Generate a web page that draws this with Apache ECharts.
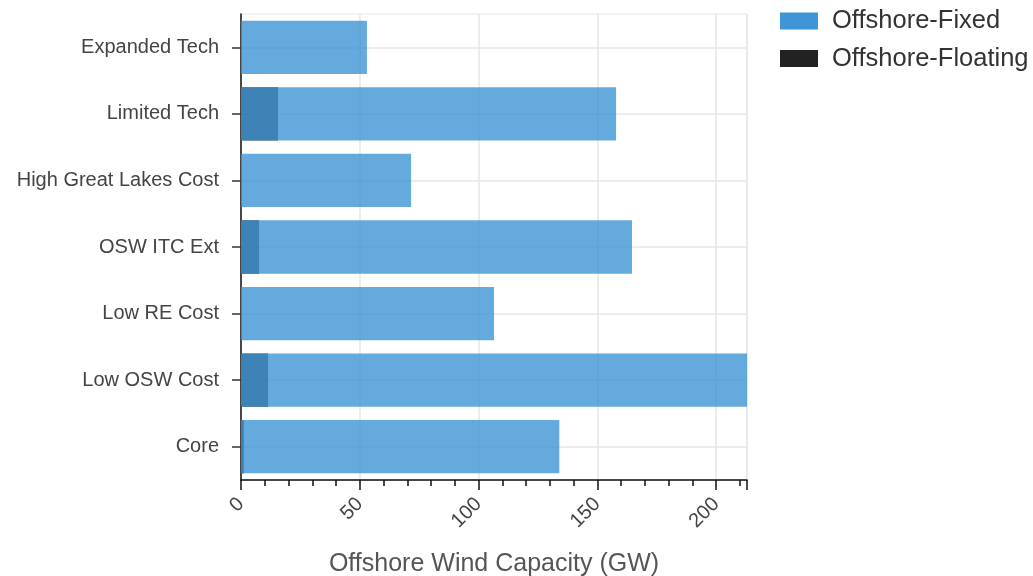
<!DOCTYPE html>
<html>
<head>
<meta charset="utf-8">
<script src="https://cdn.jsdelivr.net/npm/echarts@6/dist/echarts.min.js"></script>
<style>
html,body{margin:0;padding:0;background:#fff;}
#chart{width:1033px;height:576px;}
</style>
</head>
<body>
<div id="chart"></div>
<script>
const categories = ['Expanded Tech', 'Limited Tech', 'High Great Lakes Cost', 'OSW ITC Ext', 'Low RE Cost', 'Low OSW Cost', 'Core'];
const fixedValues = [53, 157.9, 71.6, 164.6, 106.5, 213, 134];
const floatingValues = [0, 15.6, 0, 7.6, 0, 11.4, 1.2];
const seriesNames = ['Offshore-Fixed', 'Offshore-Floating'];
const axisTitle = 'Offshore Wind Capacity (GW)';
const xMin = 0, xMax = 213;

const FONT = '"Liberation Sans", Arial, sans-serif';
const chart = echarts.init(document.getElementById('chart'));
chart.setOption({
  animation: false,
  textStyle: { fontFamily: FONT },
  grid: { left: 241, right: 286, top: 14, bottom: 96, show: true, borderColor: '#e6e6e6', borderWidth: 1,
    containLabel: false, outerBoundsMode: 'none' },
  legend: {
    orient: 'vertical', left: 775, top: 3, itemWidth: 38, itemHeight: 17, itemGap: 11.5,
    data: [seriesNames[0], seriesNames[1]],
    icon: 'rect',
    itemStyle: { opacity: 1 },
    textStyle: { fontSize: 25.5, color: '#333', fontFamily: FONT, padding: [0, 0, 0, 9] }
  },
  xAxis: [
    {
      type: 'value', min: xMin, max: xMax, interval: 50, position: 'bottom',
      name: axisTitle, nameLocation: 'middle', nameGap: 72,
      nameTextStyle: { fontSize: 25, color: '#555', fontFamily: FONT },
      axisLine: { show: true, lineStyle: { color: '#111', width: 1.5 } },
      axisTick: { show: true, length: 10, lineStyle: { color: '#111', width: 1.5 } },
      axisLabel: { rotate: 45, fontSize: 20, color: '#444', margin: 21, fontFamily: FONT,
        formatter: v => (v % 50 === 0 ? String(v) : '') },
      splitLine: { show: true, lineStyle: { color: '#e6e6e6', width: 1.5 } }
    },
    {
      type: 'value', min: xMin, max: xMax, interval: 10, position: 'bottom', offset: 0,
      axisLine: { show: false },
      axisTick: { show: true, length: 6, lineStyle: { color: '#111', width: 1.5 } },
      axisLabel: { show: false },
      splitLine: { show: false }
    }
  ],
  yAxis: {
    type: 'category', data: categories, inverse: true,
    axisLine: { show: true, lineStyle: { color: '#111', width: 1.5 } },
    axisTick: { show: true, alignWithLabel: true, length: 9, lineStyle: { color: '#333', width: 1.5 } },
    axisLabel: { fontSize: 20, color: '#444', margin: 22, fontFamily: FONT },
    splitLine: { show: true, alignWithLabel: true, lineStyle: { color: '#e6e6e6', width: 1.5 } }
  },
  series: [
    {
      name: seriesNames[1], type: 'bar', data: floatingValues, barWidth: '80%', barGap: '-100%',
      itemStyle: { color: '#222222', opacity: 0.87 }
    },
    {
      name: seriesNames[0], type: 'bar', data: fixedValues, barWidth: '80%', barGap: '-100%',
      itemStyle: { color: '#3f95d5', opacity: 0.8 }
    }
  ]
});
</script>
</body>
</html>
